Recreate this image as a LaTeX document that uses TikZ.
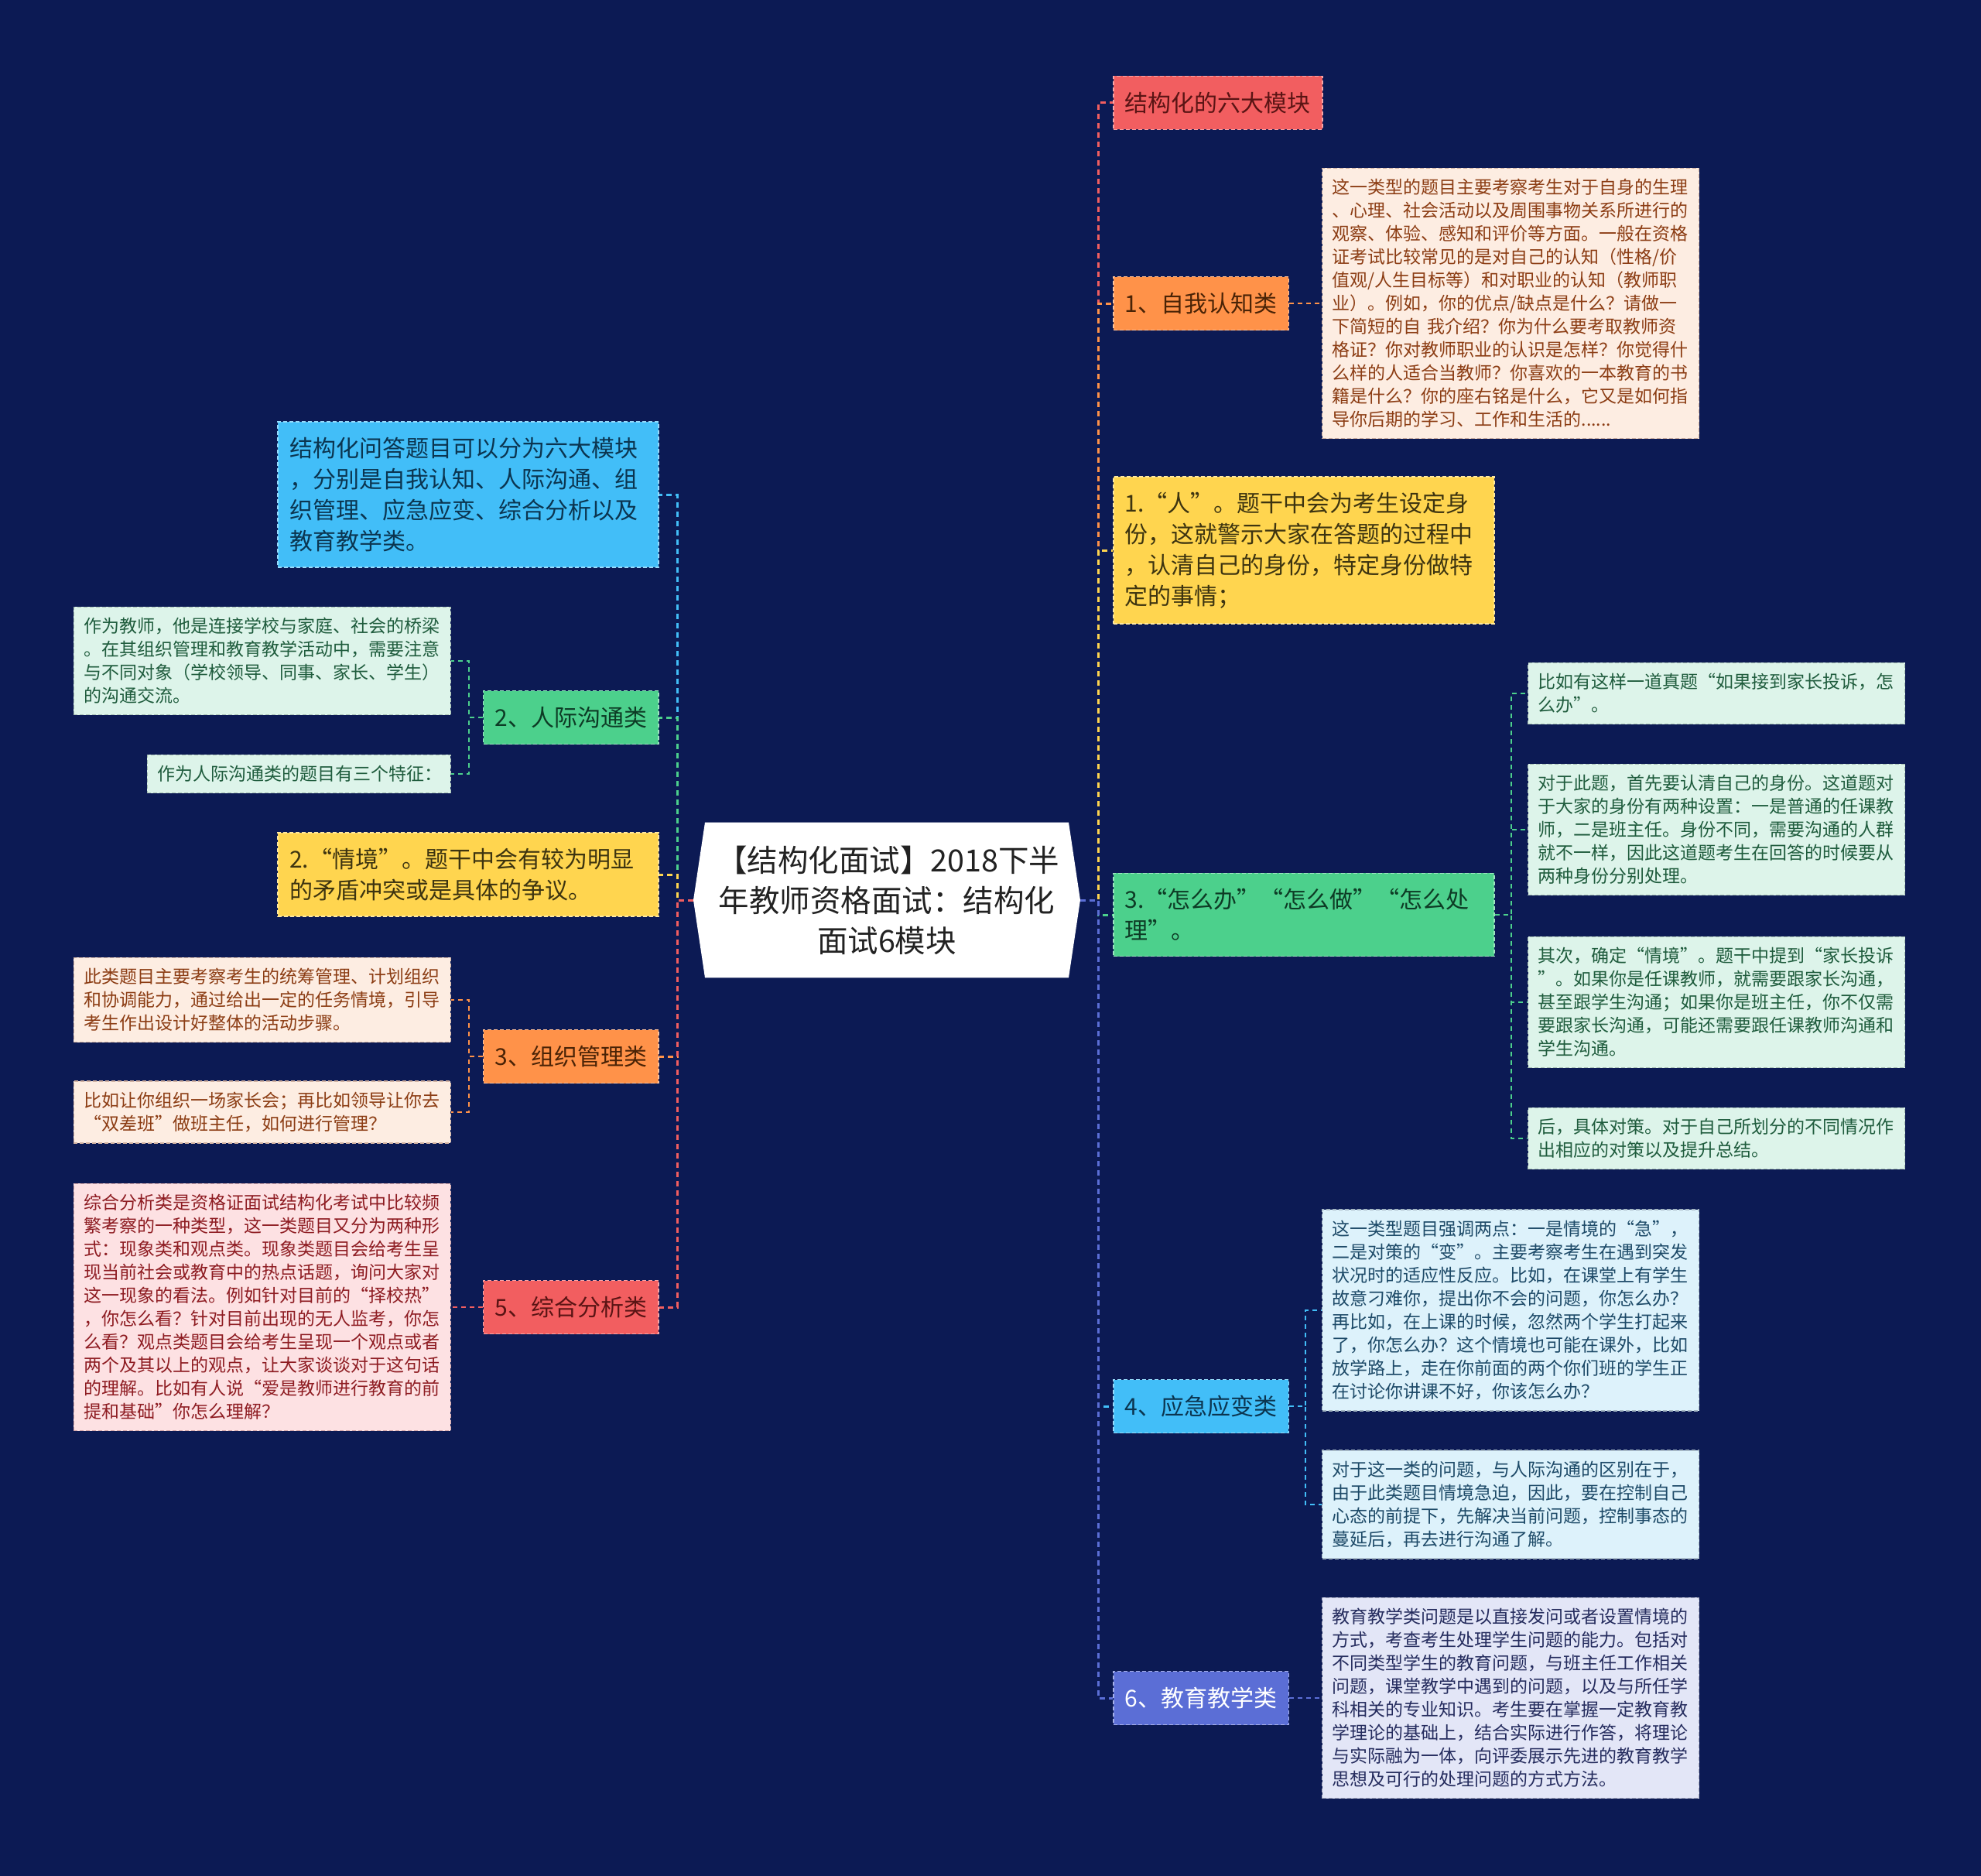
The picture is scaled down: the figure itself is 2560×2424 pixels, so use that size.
\documentclass[tikz,border=0pt]{standalone}
\usepackage{fontspec}
\setmainfont{Noto Sans CJK SC}
\usetikzlibrary{shapes.symbols}
\definecolor{bg}{HTML}{0C1A54}
\definecolor{ink}{HTML}{222222}
\definecolor{redbox}{HTML}{F25E60}
\definecolor{redink}{HTML}{5A1414}
\definecolor{redbg}{HTML}{FDE1E3}
\definecolor{rednote}{HTML}{8E1C22}
\definecolor{orangebox}{HTML}{FF9249}
\definecolor{orangeink}{HTML}{4A2306}
\definecolor{orangebg}{HTML}{FDEDE2}
\definecolor{orangenote}{HTML}{8C3D14}
\definecolor{yellowbox}{HTML}{FFD54F}
\definecolor{yellowink}{HTML}{3D3410}
\definecolor{greenbox}{HTML}{4CD08C}
\definecolor{greenink}{HTML}{0D3B25}
\definecolor{greenbg}{HTML}{DDF4EA}
\definecolor{greennote}{HTML}{1F5C3D}
\definecolor{skybox}{HTML}{42BEF8}
\definecolor{skyink}{HTML}{0B3550}
\definecolor{skybg}{HTML}{DDF2FB}
\definecolor{skynote}{HTML}{1D4A68}
\definecolor{violetbox}{HTML}{5B6ED6}
\definecolor{violetbg}{HTML}{E3E6F7}
\definecolor{violetnote}{HTML}{252C5E}

\begin{document}
\begin{tikzpicture}[
  x=1pt,y=-1pt,
  root/.style={shape=signal,signal to=west and east,signal pointer angle=163,
               fill=white,text=ink,align=center,text width=440pt,
               inner xsep=15pt,inner ysep=30pt,font=\fontsize{39.5}{52}\selectfont},
  topic/.style={line width=1.6pt,dash pattern=on 5pt off 3pt,align=left,
                inner xsep=15pt,inner ysep=20pt,minimum height=69pt,
                font=\fontsize{30}{40}\selectfont},
  wide/.style={topic,text width=462pt},
  note/.style={line width=1.4pt,dash pattern=on 5pt off 3pt,align=left,
               inner xsep=13pt,inner ysep=14pt,text width=461pt,
               font=\fontsize{23}{30}\selectfont},
  trunk/.style={line width=3pt,dash pattern=on 7pt off 5pt},
  twig/.style={line width=2pt,dash pattern=on 6pt off 5pt}
]
\useasboundingbox (0,0) rectangle (2560,2424);
\fill[bg] (0,0) rectangle (2560,2424);

% 1. Central topic.
\node[root] (root) at (1146,1163)
  {【结构化面试】2018下半\\年教师资格面试：结构化\\面试6模块};
\coordinate (rtrunk) at (1419,1163);
\coordinate (ltrunk) at (875,1163);

% 2. Right branches.
\node[topic,anchor=west,fill=redbox,draw=redbox!55!white,text=redink]
  (six) at (1438,133) {结构化的六大模块};
\node[topic,anchor=west,fill=orangebox,draw=orangebox!55!white,text=orangeink]
  (self) at (1438,392) {1、自我认知类};
\node[wide,anchor=west,fill=yellowbox,draw=yellowbox!55!white,text=yellowink]
  (person) at (1438,711)
  {1.“人”。题干中会为考生设定身\\份，这就警示大家在答题的过程中\\，认清自己的身份，特定身份做特\\定的事情；};
\node[wide,anchor=west,fill=greenbox,draw=greenbox!55!white,text=greenink]
  (how) at (1438,1182) {3.“怎么办”“怎么做”“怎么处\\理”。};
\node[topic,anchor=west,fill=skybox,draw=skybox!55!white,text=skyink]
  (emerg) at (1438,1817) {4、应急应变类};
\node[topic,anchor=west,fill=violetbox,draw=violetbox!55!white,text=white]
  (teach) at (1438,2194) {6、教育教学类};

\node[note,anchor=west,fill=orangebg,draw=orangenote!40!white,text=orangenote]
  (selfnote) at (1708,392)
  {这一类型的题目主要考察考生对于自身的生理\\、心理、社会活动以及周围事物关系所进行的\\观察、体验、感知和评价等方面。一般在资格\\证考试比较常见的是对自己的认知（性格/价\\值观/人生目标等）和对职业的认知（教师职\\业）。例如，你的优点/缺点是什么？请做一\\下简短的自~我介绍？你为什么要考取教师资\\格证？你对教师职业的认识是怎样？你觉得什\\么样的人适合当教师？你喜欢的一本教育的书\\籍是什么？你的座右铭是什么，它又是如何指\\导你后期的学习、工作和生活的......};
\node[note,anchor=west,fill=greenbg,draw=greennote!40!white,text=greennote]
  (how1) at (1974,896)
  {比如有这样一道真题“如果接到家长投诉，怎\\么办”。};
\node[note,anchor=west,fill=greenbg,draw=greennote!40!white,text=greennote]
  (how2) at (1974,1072)
  {对于此题，首先要认清自己的身份。这道题对\\于大家的身份有两种设置：一是普通的任课教\\师，二是班主任。身份不同，需要沟通的人群\\就不一样，因此这道题考生在回答的时候要从\\两种身份分别处理。};
\node[note,anchor=west,fill=greenbg,draw=greennote!40!white,text=greennote]
  (how3) at (1974,1295)
  {其次，确定“情境”。题干中提到“家长投诉\\”。如果你是任课教师，就需要跟家长沟通，\\甚至跟学生沟通；如果你是班主任，你不仅需\\要跟家长沟通，可能还需要跟任课教师沟通和\\学生沟通。};
\node[note,anchor=west,fill=greenbg,draw=greennote!40!white,text=greennote]
  (how4) at (1974,1471)
  {后，具体对策。对于自己所划分的不同情况作\\出相应的对策以及提升总结。};
\node[note,anchor=west,fill=skybg,draw=skynote!40!white,text=skynote]
  (emerg1) at (1708,1693)
  {这一类型题目强调两点：一是情境的“急”，\\二是对策的“变”。主要考察考生在遇到突发\\状况时的适应性反应。比如，在课堂上有学生\\故意刁难你，提出你不会的问题，你怎么办？\\再比如，在上课的时候，忽然两个学生打起来\\了，你怎么办？这个情境也可能在课外，比如\\放学路上，走在你前面的两个你们班的学生正\\在讨论你讲课不好，你该怎么办？};
\node[note,anchor=west,fill=skybg,draw=skynote!40!white,text=skynote]
  (emerg2) at (1708,1944)
  {对于这一类的问题，与人际沟通的区别在于，\\由于此类题目情境急迫，因此，要在控制自己\\心态的前提下，先解决当前问题，控制事态的\\蔓延后，再去进行沟通了解。};
\node[note,anchor=west,fill=violetbg,draw=violetnote!40!white,text=violetnote]
  (teachnote) at (1708,2194)
  {教育教学类问题是以直接发问或者设置情境的\\方式，考查考生处理学生问题的能力。包括对\\不同类型学生的教育问题，与班主任工作相关\\问题，课堂教学中遇到的问题，以及与所任学\\科相关的专业知识。考生要在掌握一定教育教\\学理论的基础上，结合实际进行作答，将理论\\与实际融为一体，向评委展示先进的教育教学\\思想及可行的处理问题的方式方法。};

% 3. Left branches.
\node[wide,anchor=east,fill=skybox,draw=skybox!55!white,text=skyink]
  (modules) at (852,639)
  {结构化问答题目可以分为六大模块\\，分别是自我认知、人际沟通、组\\织管理、应急应变、综合分析以及\\教育教学类。};
\node[topic,anchor=east,fill=greenbox,draw=greenbox!55!white,text=greenink]
  (comm) at (852,927) {2、人际沟通类};
\node[wide,anchor=east,fill=yellowbox,draw=yellowbox!55!white,text=yellowink]
  (scene) at (852,1130) {2.“情境”。题干中会有较为明显\\的矛盾冲突或是具体的争议。};
\node[topic,anchor=east,fill=orangebox,draw=orangebox!55!white,text=orangeink]
  (org) at (852,1365) {3、组织管理类};
\node[topic,anchor=east,fill=redbox,draw=redbox!55!white,text=redink]
  (anal) at (852,1689) {5、综合分析类};

\node[note,anchor=east,fill=greenbg,draw=greennote!40!white,text=greennote]
  (comm1) at (583,854)
  {作为教师，他是连接学校与家庭、社会的桥梁\\。在其组织管理和教育教学活动中，需要注意\\与不同对象（学校领导、同事、家长、学生）\\的沟通交流。};
\node[note,anchor=east,fill=greenbg,draw=greennote!40!white,text=greennote,
      text width=366pt]
  (comm2) at (583,1000) {作为人际沟通类的题目有三个特征：};
\node[note,anchor=east,fill=orangebg,draw=orangenote!40!white,text=orangenote]
  (org1) at (583,1292)
  {此类题目主要考察考生的统筹管理、计划组织\\和协调能力，通过给出一定的任务情境，引导\\考生作出设计好整体的活动步骤。};
\node[note,anchor=east,fill=orangebg,draw=orangenote!40!white,text=orangenote]
  (org2) at (583,1437)
  {比如让你组织一场家长会；再比如领导让你去\\“双差班”做班主任，如何进行管理？};
\node[note,anchor=east,fill=redbg,draw=rednote!40!white,text=rednote]
  (analnote) at (583,1689)
  {综合分析类是资格证面试结构化考试中比较频\\繁考察的一种类型，这一类题目又分为两种形\\式：现象类和观点类。现象类题目会给考生呈\\现当前社会或教育中的热点话题，询问大家对\\这一现象的看法。例如针对目前的“择校热”\\，你怎么看？针对目前出现的无人监考，你怎\\么看？观点类题目会给考生呈现一个观点或者\\两个及其以上的观点，让大家谈谈对于这句话\\的理解。比如有人说“爱是教师进行教育的前\\提和基础”你怎么理解？};

% 4. Trunk connectors, top to bottom.
\draw[trunk,draw=redbox] (root.east) -- (rtrunk) |- (six.west);
\draw[trunk,draw=orangebox] (root.east) -- (rtrunk) |- (self.west);
\draw[trunk,draw=yellowbox] (root.east) -- (rtrunk) |- (person.west);
\draw[trunk,draw=greenbox] (root.east) -- (rtrunk) |- (how.west);
\draw[trunk,draw=skybox] (root.east) -- (rtrunk) |- (emerg.west);
\draw[trunk,draw=violetbox] (root.east) -- (rtrunk) |- (teach.west);
\draw[trunk,draw=skybox] (root.west) -- (ltrunk) |- (modules.east);
\draw[trunk,draw=greenbox] (root.west) -- (ltrunk) |- (comm.east);
\draw[trunk,draw=yellowbox] (root.west) -- (ltrunk) |- (scene.east);
\draw[trunk,draw=orangebox] (root.west) -- (ltrunk) |- (org.east);
\draw[trunk,draw=redbox] (root.west) -- (ltrunk) |- (anal.east);

% 5. Leaf connectors.
\coordinate (howfork) at (1953,1182);
\coordinate (emergfork) at (1687,1817);
\coordinate (commfork) at (606,927);
\coordinate (orgfork) at (606,1365);
\draw[twig,draw=orangebox] (self.east) -- (selfnote.west);
\foreach \n in {how1,how2,how3,how4}
  \draw[twig,draw=greenbox] (how.east) -- (howfork) |- (\n.west);
\foreach \n in {emerg1,emerg2}
  \draw[twig,draw=skybox] (emerg.east) -- (emergfork) |- (\n.west);
\draw[twig,draw=violetbox] (teach.east) -- (teachnote.west);
\foreach \n in {comm1,comm2}
  \draw[twig,draw=greenbox] (comm.west) -- (commfork) |- (\n.east);
\foreach \n in {org1,org2}
  \draw[twig,draw=orangebox] (org.west) -- (orgfork) |- (\n.east);
\draw[twig,draw=redbox] (anal.west) -- (analnote.east);

\end{tikzpicture}
\end{document}
